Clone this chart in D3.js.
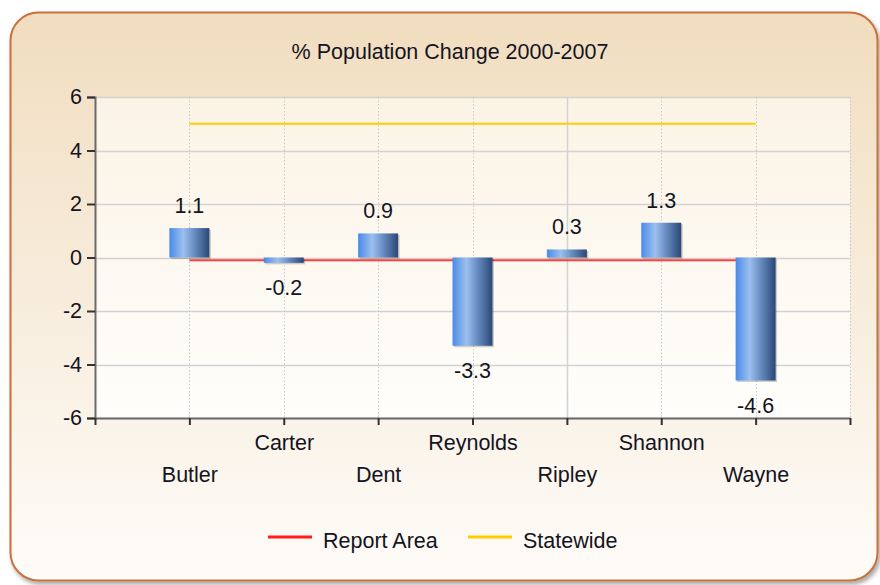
<!DOCTYPE html>
<html>
<head>
<meta charset="utf-8">
<script src="https://cdn.jsdelivr.net/npm/d3@7"></script>
<style>
  body { margin: 0; background: #fff; }
  svg text { font-family: "Liberation Sans", Arial, sans-serif; fill: #14141e; }
</style>
</head>
<body>
<div id="chart"></div>
<script>
// data
var counties = ["Butler", "Carter", "Dent", "Reynolds", "Ripley", "Shannon", "Wayne"];
var changes = [1.1, -0.2, 0.9, -3.3, 0.3, 1.3, -4.6];
var reportArea = [-0.1, -0.1, -0.1, -0.1, -0.1, -0.1, -0.1];
var statewide = [5.0, 5.0, 5.0, 5.0, 5.0, 5.0, 5.0];
var yTicks = [-6, -4, -2, 0, 2, 4, 6];
var legendItems = [
  { name: "Report Area", color: "#ff1f1f" },
  { name: "Statewide", color: "#ffcc00" }
];

var W = 880, H = 585;
var fs = 21.5;
var svg = d3.select("#chart").append("svg").attr("width", W).attr("height", H);
var defs = svg.append("defs");

var bg = defs.append("linearGradient").attr("id", "bgGrad").attr("x1", 0).attr("y1", 0).attr("x2", 0).attr("y2", 1);
bg.append("stop").attr("offset", "0%").attr("stop-color", "#f1ddbf");
bg.append("stop").attr("offset", "100%").attr("stop-color", "#fefcf9");

var pg = defs.append("linearGradient").attr("id", "plotGrad").attr("x1", 0).attr("y1", 0).attr("x2", 0).attr("y2", 1);
pg.append("stop").attr("offset", "0%").attr("stop-color", "#fbf3e5");
pg.append("stop").attr("offset", "100%").attr("stop-color", "#fffefc");

var bar = defs.append("linearGradient").attr("id", "barGrad").attr("x1", 0).attr("y1", 0).attr("x2", 1).attr("y2", 0);
bar.append("stop").attr("offset", "0%").attr("stop-color", "#4a8be8");
bar.append("stop").attr("offset", "35%").attr("stop-color", "#9cbfee");
bar.append("stop").attr("offset", "60%").attr("stop-color", "#6c91c6");
bar.append("stop").attr("offset", "100%").attr("stop-color", "#2a4776");

var sh = defs.append("filter").attr("id", "frameShadow").attr("x", "-5%").attr("y", "-5%").attr("width", "110%").attr("height", "110%");
sh.append("feDropShadow").attr("dx", 2).attr("dy", 3).attr("stdDeviation", 2).attr("flood-color", "#000").attr("flood-opacity", 0.35);

// outer frame
svg.append("rect")
  .attr("x", 10.5).attr("y", 12.5).attr("width", 867).attr("height", 568)
  .attr("rx", 28).attr("ry", 28)
  .attr("fill", "url(#bgGrad)")
  .attr("stroke", "#c8713d").attr("stroke-width", 2)
  .attr("filter", "url(#frameShadow)");

svg.append("text")
  .attr("x", 450).attr("y", 59)
  .attr("text-anchor", "middle")
  .attr("font-size", fs)
  .text("% Population Change 2000-2007");

var plot = { left: 95, right: 850, top: 97, bottom: 418 };
var x = d3.scaleLinear().domain([0, counties.length + 1]).range([plot.left, plot.right]);
var y = d3.scaleLinear().domain([-6, 6]).range([plot.bottom, plot.top]);

svg.append("rect")
  .attr("x", plot.left).attr("y", plot.top)
  .attr("width", plot.right - plot.left).attr("height", plot.bottom - plot.top)
  .attr("fill", "url(#plotGrad)");

// horizontal grid
svg.append("g").selectAll("line").data(yTicks).join("line")
  .attr("x1", plot.left).attr("x2", plot.right)
  .attr("y1", d => Math.round(y(d)) + 0.5).attr("y2", d => Math.round(y(d)) + 0.5)
  .attr("stroke", "#d2d2d2").attr("stroke-width", 1.5);

// vertical grid: dotted minor at each category, solid major every 5
var vIdx = d3.range(1, counties.length + 2);
svg.append("g").selectAll("line").data(vIdx).join("line")
  .attr("x1", d => Math.round(x(d)) + 0.5).attr("x2", d => Math.round(x(d)) + 0.5)
  .attr("y1", plot.top).attr("y2", plot.bottom)
  .attr("stroke", d => d % 5 === 0 ? "#d2d2d2" : "#c8c8c8")
  .attr("stroke-width", d => d % 5 === 0 ? 1.5 : 1)
  .attr("stroke-dasharray", d => d % 5 === 0 ? null : "1.5,2");

// lines (drawn under bars)
var line = d3.line().x((d, i) => x(i + 1)).y(d => y(d));
svg.append("path").datum(reportArea).attr("d", line)
  .attr("fill", "none").attr("stroke", legendItems[0].color).attr("stroke-width", 2).attr("opacity", 0.85);
svg.append("path").datum(statewide).attr("d", line)
  .attr("fill", "none").attr("stroke", legendItems[1].color).attr("stroke-width", 2);

// bars
var bw = 40;
var bars = svg.append("g").selectAll("g").data(changes).join("g");
bars.append("rect")
  .attr("x", (d, i) => x(i + 1) - bw / 2 + 1.5)
  .attr("y", d => Math.min(y(d), y(0)) + 1.5)
  .attr("width", bw)
  .attr("height", d => Math.abs(y(d) - y(0)))
  .attr("fill", "#000").attr("opacity", 0.18);
bars.append("rect")
  .attr("x", (d, i) => x(i + 1) - bw / 2)
  .attr("y", d => Math.min(y(d), y(0)))
  .attr("width", bw)
  .attr("height", d => Math.abs(y(d) - y(0)))
  .attr("fill", "url(#barGrad)");

bars.append("text")
  .attr("x", (d, i) => x(i + 1))
  .attr("y", d => d >= 0 ? y(d) - 15 : y(d) + 32)
  .attr("text-anchor", "middle")
  .attr("font-size", fs)
  .text(d => d);

// axes
var yAxis = svg.append("g").attr("transform", "translate(" + plot.left + ",0)")
  .call(d3.axisLeft(y).tickValues(yTicks).tickSize(8).tickPadding(5).tickFormat(d => String(d)));
yAxis.select(".domain").attr("stroke", "#6a6a6a").attr("stroke-width", 2);
yAxis.selectAll(".tick line").attr("stroke", "#333").attr("stroke-width", 2);
yAxis.selectAll(".tick text").attr("font-size", fs).attr("font-family", "Liberation Sans, Arial, sans-serif").attr("fill", "#14141e");

var xAxis = svg.append("g").attr("transform", "translate(0," + plot.bottom + ")")
  .call(d3.axisBottom(x).tickValues(d3.range(0, counties.length + 2)).tickSize(7).tickSizeOuter(0)
    .tickFormat(d => (d >= 1 && d <= counties.length) ? counties[d - 1] : ""));
xAxis.select(".domain").attr("stroke", "#6a6a6a").attr("stroke-width", 2);
xAxis.selectAll(".tick line").attr("stroke", "#333").attr("stroke-width", 2);
xAxis.selectAll(".tick text")
  .attr("font-size", fs).attr("font-family", "Liberation Sans, Arial, sans-serif").attr("fill", "#14141e")
  .attr("dy", null)
  .attr("y", d => d % 2 === 0 ? 32 : 64);

// legend
var legend = svg.append("g").selectAll("g").data(legendItems).join("g")
  .attr("transform", (d, i) => "translate(" + (268 + i * 200) + ",537)");
legend.append("line").attr("x1", 0).attr("x2", 44).attr("y1", 0).attr("y2", 0)
  .attr("stroke", d => d.color).attr("stroke-width", 3);
legend.append("text").attr("x", 55).attr("y", 11).attr("font-size", fs).text(d => d.name);
</script>
</body>
</html>
